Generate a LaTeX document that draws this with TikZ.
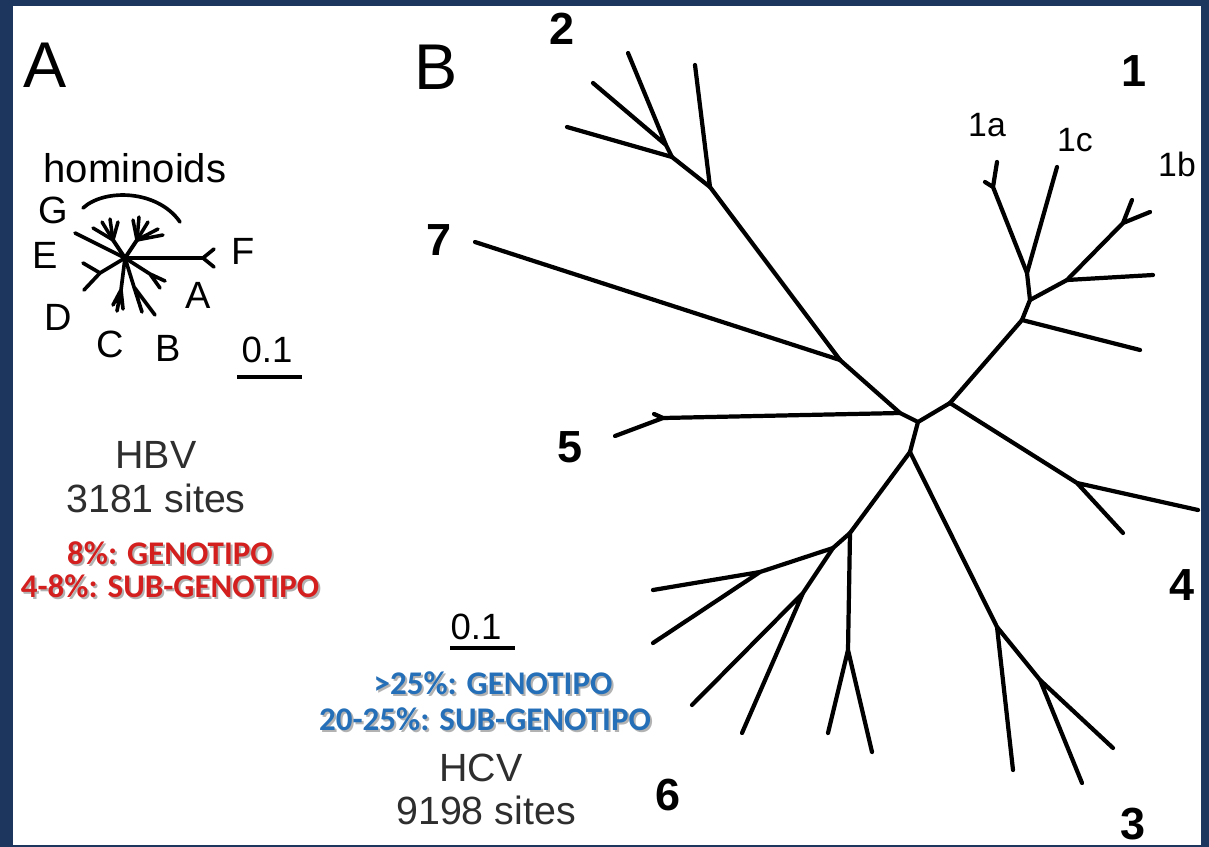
\documentclass[tikz,border=0pt]{standalone}
\usepackage{fontspec}
\setmainfont{Liberation Sans}
\newfontfamily\calibfont{Carlito}
\usepackage{tikz}
\usetikzlibrary{calc}
\definecolor{FrameNavy}{HTML}{1C365E}
\definecolor{CutRed}{HTML}{D41F1F}
\definecolor{CutBlue}{HTML}{246FB7}
\definecolor{SiteGray}{HTML}{2E2E2E}
% text with a soft drop shadow
\newcommand{\shadowed}[2]{%
  \makebox[0pt][l]{\hspace{1.4pt}\raisebox{-1.4pt}{\textcolor{black!30}{#2}}}%
  \textcolor{#1}{#2}}
\tikzset{
  % Tree branch
  brn/.style={line width=#1, line cap=round, line join=round},
  brn/.default=3pt,
  % Panel letter
  panel/.style={inner sep=0pt, font=\fontsize{46}{46}\selectfont},
  % Tip letter of tree A
  leaf/.style={inner sep=0pt, font=\fontsize{27}{27}\selectfont},
  % Genotype number of tree B
  geno/.style={inner sep=0pt, font=\fontsize{32}{32}\selectfont\bfseries},
  % Subtype label
  subg/.style={inner sep=0pt, font=\fontsize{24}{24}\selectfont},
  % Virus name / sites caption
  vcap/.style={inner sep=0pt, text=SiteGray, font=\fontsize{28}{28}\selectfont},
  % Threshold line
  cutline/.style={inner sep=0pt, font=\calibfont\bfseries\fontsize{23.5}{23.5}\selectfont},
  % Scale bar
  sbar/.style={line width=3pt}
}

\begin{document}
\begin{tikzpicture}[x=0.025cm, y=-0.025cm]
  % Frame
  \fill[FrameNavy] (0,0) rectangle (1209,847);
  \fill[white] (13,6) rectangle (1201,845);

  % ---------------- Panel A: HBV ----------------
  \node[panel] (pA) at (45,65) {A};
  \node[leaf, font=\fontsize{28.5}{28.5}\selectfont] (homin) at (135,168) {hominoids};
  \node[leaf] (lG) at (53,210) {G};
  \node[leaf] (lE) at (45,255) {E};
  \node[leaf] (lD) at (58,317) {D};
  \node[leaf] (lC) at (110,344) {C};
  \node[leaf] (lB) at (168,348) {B};
  \node[leaf] (lA) at (198,295) {A};
  \node[leaf] (lF) at (243,251) {F};

  \coordinate (hA) at (125,258);
  % F
  \coordinate (jF) at (203,258);
  \coordinate (tF1) at (214,249);
  \coordinate (tF2) at (214,267);
  \draw[brn=2.6pt] (hA) -- (jF) -- (tF1) (jF) -- (tF2);
  % E / G
  \coordinate (tE) at (75,233);
  \draw[brn=2.6pt] (tE) -- (hA);
  % hominoid clades
  \coordinate (jH1) at (113,240);
  \draw[brn=2.8pt] (hA) -- (jH1);
  \foreach \tx/\ty in {93/228, 102/222, 110/219, 118/222}
    \draw[brn=2.5pt] (jH1) -- (\tx,\ty);
  \coordinate (jH2) at (137,240);
  \draw[brn=2.8pt] (hA) -- (jH2);
  \foreach \tx/\ty in {133/220, 139/217, 148/222, 158/229, 163/235}
    \draw[brn=2.5pt] (jH2) -- (\tx,\ty);
  \coordinate (arc1) at (83,208);
  \coordinate (arc2) at (180,222);
  \draw[brn=2.6pt] (arc1) .. controls (105,188) and (158,190) .. (arc2);
  % D
  \coordinate (jD) at (100,273);
  \draw[brn=2.6pt] (hA) -- (jD) -- (84,290) (jD) -- (83,263);
  % C
  \coordinate (jC) at (121,290);
  \draw[brn=2.6pt] (hA) -- (jC) -- (117,311) (jC) -- (113,305) (jC) -- (123,309);
  % B
  \coordinate (jB) at (134,287);
  \draw[brn=2.6pt] (hA) -- (jB) -- (155,315) (jB) -- (142,312);
  % A
  \coordinate (jA) at (150,274);
  \draw[brn=2.6pt] (hA) -- (jA) -- (165,281) (jA) -- (160,288);

  % scale
  \node[leaf, font=\fontsize{26}{26}\selectfont] (sclA) at (267,350) {0.1};
  \coordinate (sbA1) at (237,377);
  \coordinate (sbA2) at (302,377);
  \draw[sbar] (sbA1) -- (sbA2);

  \node[vcap] (hbv) at (156,455) {HBV};
  \node[vcap] (hbvs) at (156,498) {3181 sites};
  \node[cutline] (hbvg) at (170,554) {\shadowed{CutRed}{8\%: GENOTIPO}};
  \node[cutline] (hbvsg) at (170,587) {\shadowed{CutRed}{4-8\%: SUB-GENOTIPO}};

  % ---------------- Panel B: HCV ----------------
  \node[panel] (pB) at (436,67) {B};

  % core
  \coordinate (n7) at (840,360);
  \coordinate (n5) at (900,413);
  \coordinate (c0) at (918,422);
  \coordinate (c1) at (950,403);
  \coordinate (c2) at (910,452);
  \draw[brn] (n7) -- (n5) -- (c0) -- (c1) (c0) -- (c2);

  % genotype 5
  \coordinate (f5) at (663,418);
  \draw[brn] (n5) -- (f5) -- (615,436) (f5) -- (654,414);
  % genotype 7
  \coordinate (t7) at (475,242);
  \draw[brn] (n7) -- (t7);
  % genotype 2
  \coordinate (n2) at (710,187);
  \coordinate (n2b) at (672,157);
  \coordinate (n2c) at (666,145);
  \draw[brn] (n7) -- (n2) -- (695,65);
  \draw[brn] (n2) -- (n2b) -- (567,127);
  \draw[brn] (n2b) -- (n2c) -- (628,53) (n2c) -- (593,83);
  % genotype 1
  \coordinate (n1) at (1022,320);
  \coordinate (n1x) at (1030,300);
  \coordinate (n1ac) at (1027,273);
  \coordinate (f1a) at (993,187);
  \coordinate (n1b) at (1067,280);
  \coordinate (f1b) at (1123,223);
  \draw[brn] (c1) -- (n1) -- (1140,350);
  \draw[brn] (n1) -- (n1x) -- (n1ac) -- (f1a) -- (997,162) (f1a) -- (985,182);
  \draw[brn] (n1ac) -- (1057,167);
  \draw[brn] (n1x) -- (n1b) -- (1153,275);
  \draw[brn] (n1b) -- (f1b) -- (1132,200) (f1b) -- (1150,212);
  % genotype 4
  \coordinate (n4) at (1077,483);
  \draw[brn] (c1) -- (n4) -- (1198,510) (n4) -- (1123,533);
  % genotype 3
  \coordinate (n3) at (997,627);
  \coordinate (n3b) at (1040,680);
  \draw[brn] (c2) -- (n3) -- (1013,770);
  \draw[brn] (n3) -- (n3b) -- (1113,748) (n3b) -- (1082,783);
  % genotype 6
  \coordinate (n6) at (850,533);
  \coordinate (n6a) at (833,548);
  \coordinate (n6b) at (848,650);
  \coordinate (n6c) at (760,572);
  \coordinate (n6d) at (803,593);
  \draw[brn] (c2) -- (n6) -- (n6b) -- (828,733) (n6b) -- (872,752);
  \draw[brn] (n6) -- (n6a) -- (n6c) -- (653,590) (n6c) -- (653,643);
  \draw[brn] (n6a) -- (n6d) -- (692,705) (n6d) -- (742,733);

  % genotype labels
  \node[geno] (g1) at (1134,71) {1};
  \node[geno] (g2) at (562,29) {2};
  \node[geno] (g3) at (1133,824) {3};
  \node[geno] (g4) at (1182,585) {4};
  \node[geno] (g5) at (570,447) {5};
  \node[geno] (g6) at (668,795) {6};
  \node[geno] (g7) at (439,240) {7};
  \node[subg] (s1a) at (987,125) {1a};
  \node[subg] (s1c) at (1075,140) {1c};
  \node[subg] (s1b) at (1177,164) {1b};

  % scale
  \node[leaf, font=\fontsize{26}{26}\selectfont] (sclB) at (476,627) {0.1};
  \coordinate (sbB1) at (450,648);
  \coordinate (sbB2) at (515,648);
  \draw[sbar] (sbB1) -- (sbB2);

  \node[cutline] (hcvg) at (493,684) {\shadowed{CutBlue}{>25\%: GENOTIPO}};
  \node[cutline] (hcvsg) at (485,720) {\shadowed{CutBlue}{20-25\%: SUB-GENOTIPO}};
  \node[vcap] (hcv) at (481,768) {HCV};
  \node[vcap] (hcvs) at (486,810) {9198 sites};
\end{tikzpicture}
\end{document}
